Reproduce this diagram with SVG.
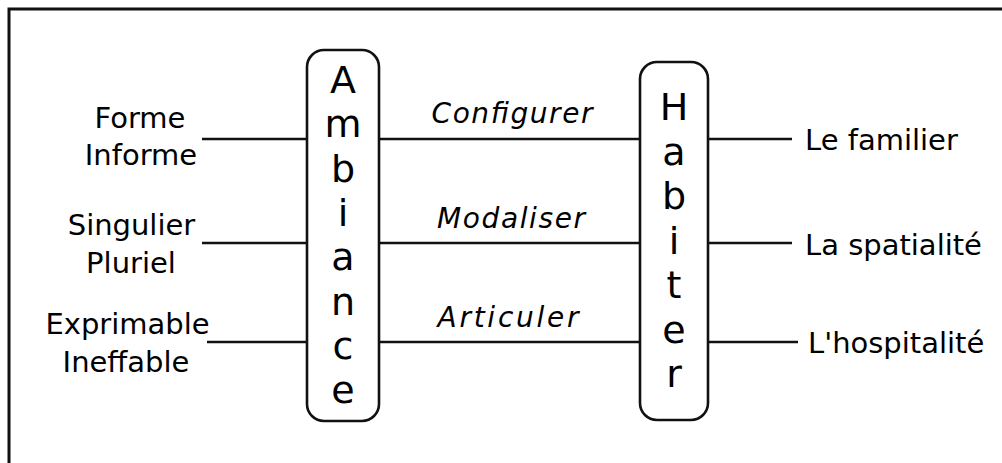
<svg xmlns="http://www.w3.org/2000/svg" width="1002" height="463" viewBox="0 0 1002 463">
<style>
.frame{fill:none;stroke:#111;stroke-width:3}
.box{fill:#fff;stroke:#111;stroke-width:2.6}
.ln{stroke:#111;stroke-width:2.6;fill:none}
.lbl{font-family:"DejaVu Sans",Verdana,sans-serif;font-size:29px;fill:#000}
.mid{font-family:"DejaVu Sans",Verdana,sans-serif;font-size:28px;font-style:italic;fill:#000;text-anchor:middle}
.vert{font-family:"DejaVu Sans",Verdana,sans-serif;font-size:38px;fill:#000;text-anchor:middle}
.c{text-anchor:middle}
</style>
<rect width="1002" height="463" fill="#fff"/>
<path class="frame" d="M9,470 V9 H1010"/>
<g id="connectors">
<line class="ln" x1="202" y1="139" x2="307" y2="139"/>
<line class="ln" x1="202" y1="243" x2="307" y2="243"/>
<line class="ln" x1="207" y1="342" x2="307" y2="342"/>
<line class="ln" x1="379" y1="139" x2="640" y2="139"/>
<line class="ln" x1="379" y1="243" x2="640" y2="243"/>
<line class="ln" x1="379" y1="342" x2="640" y2="342"/>
<line class="ln" x1="708" y1="139" x2="792" y2="139"/>
<line class="ln" x1="708" y1="243" x2="792" y2="243"/>
<line class="ln" x1="708" y1="342" x2="798" y2="342"/>
<text class="mid" x="512" y="123" textLength="161" lengthAdjust="spacing">Configurer</text>
<text class="mid" x="511" y="228" textLength="148" lengthAdjust="spacing">Modaliser</text>
<text class="mid" x="508" y="327" textLength="141" lengthAdjust="spacing">Articuler</text>
</g>
<g id="forme">
<text class="lbl c" x="140" y="128">Forme</text>
<text class="lbl c" x="141" y="165">Informe</text>
</g>
<g id="singulier">
<text class="lbl c" x="131.5" y="235">Singulier</text>
<text class="lbl c" x="131" y="273">Pluriel</text>
</g>
<g id="exprimable">
<text class="lbl c" x="127.5" y="334">Exprimable</text>
<text class="lbl c" x="126" y="372">Ineffable</text>
</g>
<g id="ambiance">
<rect class="box" x="307" y="50" width="72" height="371" rx="17"/>
<text class="vert" x="343" y="93">A</text>
<text class="vert" x="343" y="137">m</text>
<text class="vert" x="343" y="182">b</text>
<text class="vert" x="343" y="226">i</text>
<text class="vert" x="343" y="270">a</text>
<text class="vert" x="343" y="315">n</text>
<text class="vert" x="343" y="359">c</text>
<text class="vert" x="343" y="403">e</text>
</g>
<g id="habiter">
<rect class="box" x="640" y="62" width="68" height="358" rx="17"/>
<text class="vert" x="674" y="120">H</text>
<text class="vert" x="674" y="164.5">a</text>
<text class="vert" x="674" y="209">b</text>
<text class="vert" x="674" y="253.5">i</text>
<text class="vert" x="674" y="298">t</text>
<text class="vert" x="674" y="342.5">e</text>
<text class="vert" x="674" y="387">r</text>
</g>
<g id="familier"><text class="lbl" x="805" y="150">Le familier</text></g>
<g id="spatialite"><text class="lbl" x="805" y="255">La spatialité</text></g>
<g id="hospitalite"><text class="lbl" x="808" y="353">L'hospitalité</text></g>
</svg>
